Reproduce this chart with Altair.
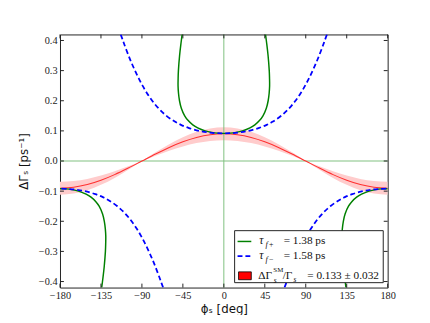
import altair as alt
import pandas as pd

# ---------------- data ----------------
x_ticks = [-180, -135, -90, -45, 0, 45, 90, 135, 180]
y_ticks = [-0.4, -0.3, -0.2, -0.1, 0.0, 0.1, 0.2, 0.3, 0.4]

# green solid (tau_f+ = 1.38 ps), upper branch
g_up_phi = [-45.8, -47.1, -48.6, -49.9, -50.2, -50.3, -49.8, -48.7, -46.7, -43.0, -39.4, -34.1, -28.7, -20.4, -13.2, -6.7, 0.0,
            6.7, 13.2, 20.4, 28.7, 34.1, 39.4, 43.0, 46.7, 48.7, 49.8, 50.3, 50.2, 49.9, 48.6, 47.1, 45.8]
g_up_dg = [0.42, 0.39, 0.35, 0.30, 0.275, 0.25, 0.225, 0.20, 0.175, 0.15, 0.135, 0.12, 0.11, 0.10, 0.095, 0.0925, 0.0917,
           0.0925, 0.095, 0.10, 0.11, 0.12, 0.135, 0.15, 0.175, 0.20, 0.225, 0.25, 0.275, 0.30, 0.35, 0.39, 0.42]
# green lower-left branch
g_ll_phi = [-134.2, -132.9, -131.4, -130.1, -129.8, -129.7, -130.2, -131.3, -133.3, -137.0, -140.6, -145.9, -151.3, -159.6, -166.8, -173.3, -180.0]
g_lo_dg = [-0.42, -0.39, -0.35, -0.30, -0.275, -0.25, -0.225, -0.20, -0.175, -0.15, -0.135, -0.12, -0.11, -0.10, -0.095, -0.0925, -0.0917]
# green lower-right branch
g_lr_phi = [134.2, 132.9, 131.4, 130.1, 129.8, 129.7, 130.2, 131.3, 133.3, 137.0, 140.6, 145.9, 151.3, 159.6, 166.8, 173.3, 180.0]

# blue dashed (tau_f- = 1.58 ps), upper branch
b_up_phi = [-113.3, -110.9, -109.1, -104.7, -101.3, -97.6, -93.65, -89.3, -84.4, -78.7, -71.8, -63.0, -53.4, -47.1, -38.9, -27.0, -17.2, -8.2, 0.0,
            8.2, 17.2, 27.0, 38.9, 47.1, 53.4, 63.0, 71.8, 78.7, 84.4, 89.3, 93.65, 97.6, 101.3, 104.7, 109.1, 110.9, 113.3]
b_up_dg = [0.42, 0.40, 0.385, 0.35, 0.325, 0.30, 0.275, 0.25, 0.225, 0.20, 0.175, 0.15, 0.13, 0.12, 0.11, 0.10, 0.095, 0.0925, 0.0918,
           0.0925, 0.095, 0.10, 0.11, 0.12, 0.13, 0.15, 0.175, 0.20, 0.225, 0.25, 0.275, 0.30, 0.325, 0.35, 0.385, 0.40, 0.42]
# blue lower-left / lower-right branches
b_ll_phi = [-66.7, -69.1, -70.9, -75.3, -78.7, -82.4, -86.35, -90.7, -95.6, -101.3, -108.2, -117.0, -126.6, -132.9, -141.1, -153.0, -162.8, -171.8, -180.0]
b_lo_dg = [-0.42, -0.40, -0.385, -0.35, -0.325, -0.30, -0.275, -0.25, -0.225, -0.20, -0.175, -0.15, -0.13, -0.12, -0.11, -0.10, -0.095, -0.0925, -0.0918]
b_lr_phi = [66.7, 69.1, 70.9, 75.3, 78.7, 82.4, 86.35, 90.7, 95.6, 101.3, 108.2, 117.0, 126.6, 132.9, 141.1, 153.0, 162.8, 171.8, 180.0]

# red SM band
band_phi = [-180, -165, -150, -135, -120, -105, -90, -75, -60, -45, -30, -15, 0,
            15, 30, 45, 60, 75, 90, 105, 120, 135, 150, 165, 180]
band_mid = [-0.0903, -0.0872, -0.0782, -0.0639, -0.0452, -0.0234, 0.0, 0.0234, 0.0452, 0.0639, 0.0782, 0.0872, 0.0903,
            0.0872, 0.0782, 0.0639, 0.0452, 0.0234, 0.0, -0.0234, -0.0452, -0.0639, -0.0782, -0.0872, -0.0903]
band_lo = [-0.0686, -0.0663, -0.0594, -0.0485, -0.0343, -0.0178, 0.0, 0.0178, 0.0343, 0.0485, 0.0594, 0.0663, 0.0686,
           0.0663, 0.0594, 0.0485, 0.0343, 0.0178, 0.0, -0.0178, -0.0343, -0.0485, -0.0594, -0.0663, -0.0686]
band_hi = [-0.1120, -0.1082, -0.0970, -0.0792, -0.0560, -0.0290, 0.0, 0.0290, 0.0560, 0.0792, 0.0970, 0.1082, 0.1120,
           0.1082, 0.0970, 0.0792, 0.0560, 0.0290, 0.0, -0.0290, -0.0560, -0.0792, -0.0970, -0.1082, -0.1120]


def seg(phis, dgs, name):
    return pd.DataFrame({"phi": phis, "dg": dgs, "seg": name, "ord": list(range(len(phis)))})


green_df = pd.concat([seg(g_up_phi, g_up_dg, "up"), seg(g_ll_phi, g_lo_dg, "ll"), seg(g_lr_phi, g_lo_dg, "lr")])
blue_df = pd.concat([seg(b_up_phi, b_up_dg, "up"), seg(b_ll_phi, b_lo_dg, "ll"), seg(b_lr_phi, b_lo_dg, "lr")])
band_df = pd.DataFrame({"phi": band_phi, "dg": band_mid, "lo": band_lo, "hi": band_hi})
cross_df = pd.DataFrame({"phi": [0.0], "dg": [0.0]})
xt_df = pd.DataFrame({"phi": x_ticks})
yt_df = pd.DataFrame({"dg": y_ticks})
one = pd.DataFrame({"a": [0]})

W, H = 334, 258
xs = alt.Scale(domain=[-180, 180], nice=False, zero=False)
ys = alt.Scale(domain=[-0.42, 0.42], nice=False, zero=False)
common_axis = dict(ticks=False, domain=False, grid=False, labelFont="Liberation Serif", labelFontSize=10.5,
                   labelColor="#222", titleFont="DejaVu Sans", titleFontSize=12, titleFontWeight="normal",
                   titleColor="#111", labelFlush=False)
xaxis = alt.Axis(values=x_ticks, format="d", title="ϕₛ [deg]", labelPadding=3, titlePadding=3, **common_axis)
yaxis = alt.Axis(values=y_ticks, format=".1f", title="ΔΓₛ [ps⁻¹]", labelPadding=3, titlePadding=8, **common_axis)

X = alt.X("phi:Q", scale=xs, axis=xaxis)
Y = alt.Y("dg:Q", scale=ys, axis=yaxis)

band = alt.Chart(band_df).mark_area(color="#ffcccc", interpolate="monotone", clip=True).encode(
    x=X, y=alt.Y("lo:Q", scale=ys, axis=yaxis), y2="hi:Q")
vline = alt.Chart(cross_df).mark_rule(color="#80c080", strokeWidth=1).encode(x=X)
hline = alt.Chart(cross_df).mark_rule(color="#80c080", strokeWidth=1).encode(y=Y)
redline = alt.Chart(band_df).mark_line(color="#ff3030", strokeWidth=1.1, interpolate="monotone", clip=True).encode(x=X, y=Y)
green = alt.Chart(green_df).mark_line(color="#008000", strokeWidth=1.5, interpolate="catmull-rom", clip=True).encode(
    x=X, y=Y, detail="seg:N", order="ord:Q")
blue = alt.Chart(blue_df).mark_line(color="#0000ff", strokeWidth=1.8, strokeDash=[5, 3], interpolate="catmull-rom",
                                    clip=True).encode(x=X, y=Y, detail="seg:N", order="ord:Q")

tick_col = "#222"
xt_bot = alt.Chart(xt_df).mark_rule(color=tick_col, strokeWidth=1).encode(x=X, y=alt.value(H), y2=alt.value(H - 4))
xt_top = alt.Chart(xt_df).mark_rule(color=tick_col, strokeWidth=1).encode(x=X, y=alt.value(0), y2=alt.value(4))
yt_l = alt.Chart(yt_df).mark_rule(color=tick_col, strokeWidth=1).encode(y=Y, x=alt.value(0), x2=alt.value(4))
yt_r = alt.Chart(yt_df).mark_rule(color=tick_col, strokeWidth=1).encode(y=Y, x=alt.value(W), x2=alt.value(W - 4))

# ---------------- legend ----------------
LF = "Liberation Serif"
leg_box = alt.Chart(one).mark_rect(fill="white", stroke="#222", strokeWidth=1).encode(
    x=alt.value(178), x2=alt.value(329.5), y=alt.value(200), y2=alt.value(253))
leg_g = alt.Chart(one).mark_rule(color="#008000", strokeWidth=1.5).encode(
    x=alt.value(181), x2=alt.value(195), y=alt.value(211))
leg_b = alt.Chart(one).mark_rule(color="#0000ff", strokeWidth=1.8, strokeDash=[5, 3]).encode(
    x=alt.value(181), x2=alt.value(195), y=alt.value(226))
leg_r = alt.Chart(one).mark_rect(fill="#ff0000", stroke="#000", strokeWidth=0.8).encode(
    x=alt.value(182), x2=alt.value(195), y=alt.value(242), y2=alt.value(250))


def txt(s, x, y, size=11.5, italic=False):
    kw = dict(font=LF, fontSize=size, align="left", baseline="middle", color="#111")
    if italic:
        kw["fontStyle"] = "italic"
    return alt.Chart(one).mark_text(**kw).encode(x=alt.value(x), y=alt.value(y), text=alt.value(s))


legend_texts = [
    txt("τ", 203, 210, 12, True), txt("f", 209.5, 214, 8.5, True), txt("+", 213, 214.5, 8), txt("= 1.38 ps", 228, 211),
    txt("τ", 203, 225, 12, True), txt("f", 209.5, 229, 8.5, True), txt("−", 213, 229.5, 8), txt("= 1.58 ps", 228, 226),
    txt("ΔΓ", 202, 246, 11.5), txt("SM", 217.5, 240, 7), txt("s", 218, 251, 7.5, True),
    txt("/Γ", 227, 246, 11.5), txt("s", 238, 250, 7.5, True), txt("= 0.133 ± 0.032", 252, 246),
]

chart = alt.layer(
    band, vline, hline, redline, green, blue, xt_bot, xt_top, yt_l, yt_r,
    leg_box, leg_g, leg_b, leg_r, *legend_texts
).properties(
    width=W, height=H,
    autosize=alt.AutoSizeParams(type="none"),
    padding={"left": 53, "top": 24, "right": 35, "bottom": 25},
).configure_view(stroke="#222", strokeWidth=1)

chart.save("out.html", embed_options={"renderer": "svg", "actions": False})
